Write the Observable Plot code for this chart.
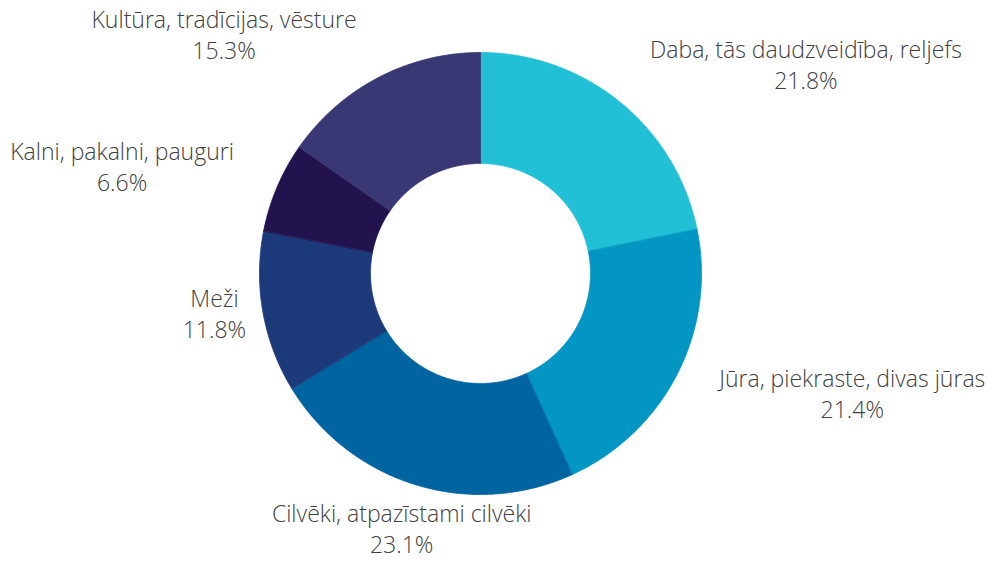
<!DOCTYPE html>
<html>
<head>
<meta charset="utf-8">
<script src="https://cdn.jsdelivr.net/npm/d3@7"></script>
<script src="https://cdn.jsdelivr.net/npm/@observablehq/plot@0.6"></script>
<style>
  html, body { margin: 0; padding: 0; background: #fff; }
  #chart svg { display: block; }
</style>
</head>
<body>
<div id="chart"></div>
<script>
// ---- data ----
const categories = [
  "Daba, tās daudzveidība, reljefs",
  "Jūra, piekraste, divas jūras",
  "Cilvēki, atpazīstami cilvēki",
  "Meži",
  "Kalni, pakalni, pauguri",
  "Kultūra, tradīcijas, vēsture"
];
const shares = [21.8, 21.4, 23.1, 11.8, 6.6, 15.3];
const palette = ["#22C0D6", "#0496C2", "#0064A0", "#1C3A7A", "#22134F", "#3A3775"];

// ---- layout ----
const W = 988, H = 561;
const cx = 480, cy = 273;         // centre in pixels
const rOuter = 221, rInner = 110; // in scale units (1 unit = 1 px)
const labelR = 268;
const labelRShort = {"Meži": 238};
const fontSize = 23;
const fontWeight = 300;
const fontFamily = "'Open Sans', 'Noto Sans', sans-serif";
const lineGap = 15.5;

const total = d3.sum(shares);
const toRad = Math.PI / 180;

// slice polygons
const pts = [];
const slices = [];
let acc = 0;
categories.forEach((cat, i) => {
  const a0 = acc / total * 360;
  acc += shares[i];
  const a1 = acc / total * 360;
  slices.push({cat, share: shares[i], a0, a1, mid: (a0 + a1) / 2});
  const n = Math.max(2, Math.ceil((a1 - a0) / 0.5));
  for (let k = 0; k <= n; k++) {
    const a = (a0 + (a1 - a0) * k / n) * toRad;
    pts.push({cat, x: rOuter * Math.sin(a), y: rOuter * Math.cos(a)});
  }
  for (let k = n; k >= 0; k--) {
    const a = (a0 + (a1 - a0) * k / n) * toRad;
    pts.push({cat, x: rInner * Math.sin(a), y: rInner * Math.cos(a)});
  }
});

// label placement
const ctx = document.createElement("canvas").getContext("2d");
ctx.font = `${fontWeight} ${fontSize}px ${fontFamily}`;
const fmt = v => d3.format(".1f")(v) + "%";
const labels = slices.map(s => {
  const r = labelRShort[s.cat] ?? labelR;
  const a = s.mid * toRad;
  const sx = Math.sin(a);
  const px = r * sx, py = r * Math.cos(a);
  const w = Math.max(ctx.measureText(s.cat).width, ctx.measureText(fmt(s.share)).width);
  let x = px;
  if (sx > 0.4) x = px + w / 2;
  else if (sx < -0.4) x = px - w / 2;
  return {cat: s.cat, pct: fmt(s.share), x, y: py};
});

const chart = Plot.plot({
  width: W,
  height: H,
  margin: 0,
  x: {domain: [-cx, W - cx], axis: null},
  y: {domain: [-(H - cy), cy], axis: null},
  color: {domain: categories, range: palette},
  marks: [
    Plot.line(pts, {x: "x", y: "y", z: "cat", fill: "cat", stroke: "cat", strokeWidth: 0.8, curve: "linear-closed"}),
    Plot.text(labels, {x: "x", y: d => d.y + lineGap, text: "cat", textAnchor: "middle", fontSize, fontWeight, fontFamily, fill: "#404040"}),
    Plot.text(labels, {x: "x", y: d => d.y - lineGap, text: "pct", textAnchor: "middle", fontSize, fontWeight, fontFamily, fill: "#404040"})
  ],
  style: {fontFamily, background: "#fff"}
});
document.getElementById("chart").appendChild(chart);
</script>
</body>
</html>
